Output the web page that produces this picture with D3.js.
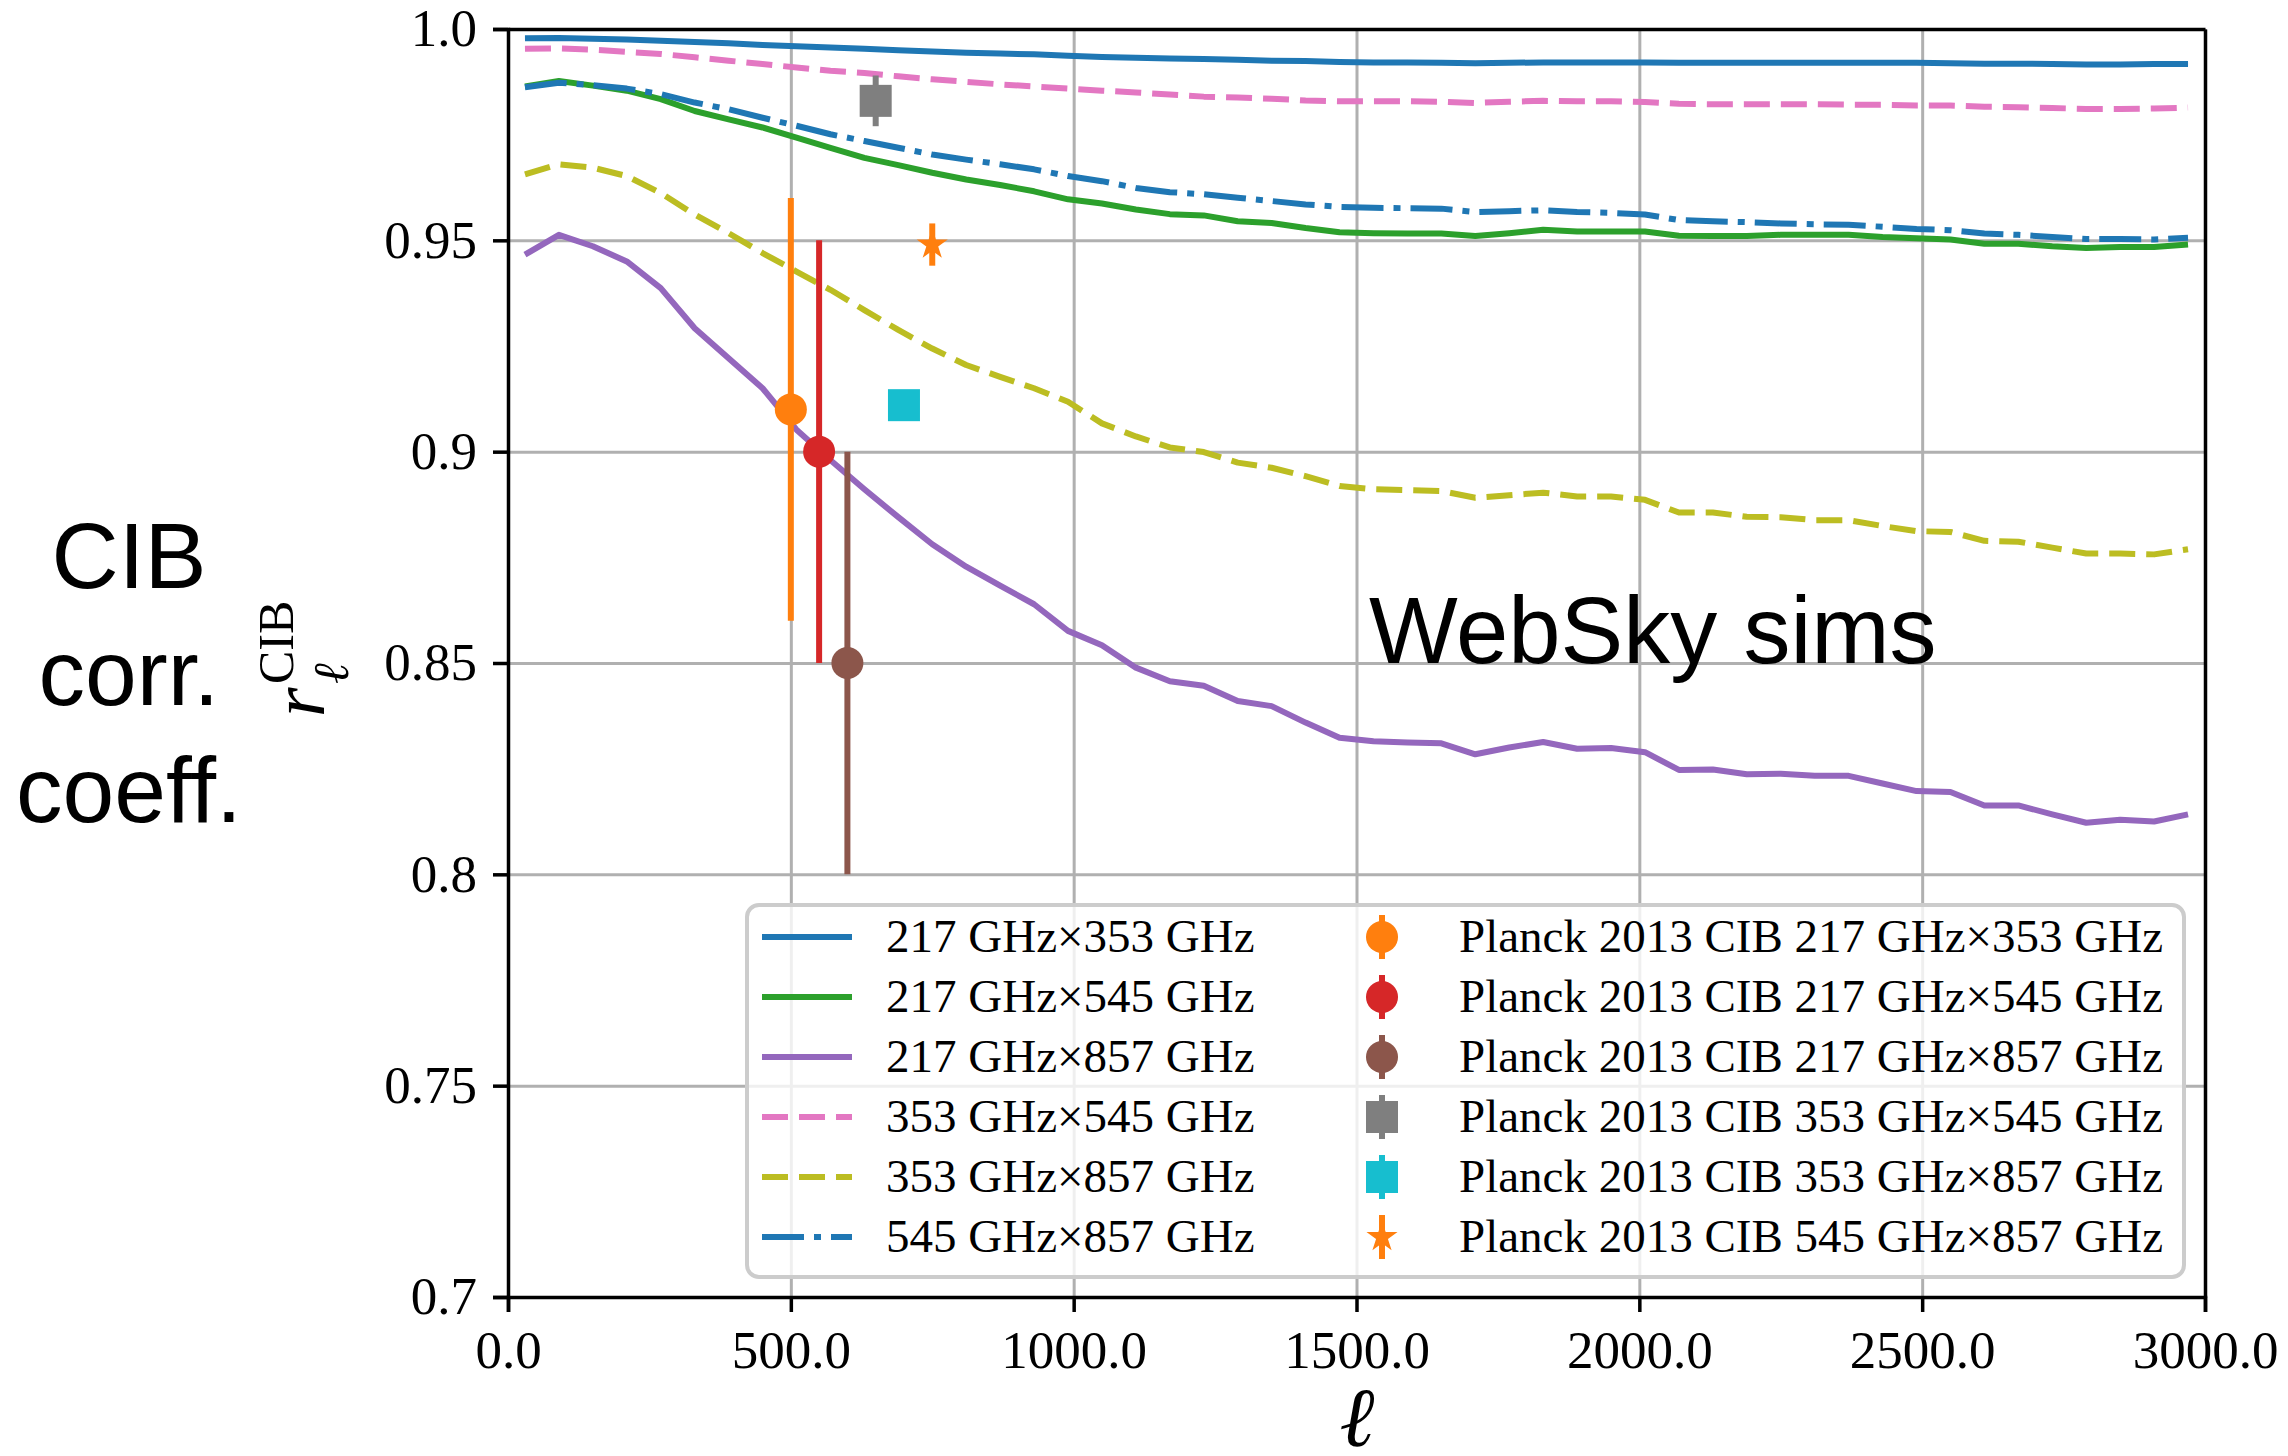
<!DOCTYPE html>
<html lang="en">
<head>
<meta charset="UTF-8">
<title>CIB corr. coeff. - WebSky sims</title>
<script src="https://cdn.jsdelivr.net/npm/d3@7"></script>
<style>
  body { margin: 0; background: #fff; }
  svg { display: block; }
  .tick text { font-family: "Liberation Serif", serif; }
</style>
</head>
<body>
<script>
// multipole bin centres
var ell = [30, 90, 150, 210, 270, 330, 390, 450, 510, 570,
           630, 690, 750, 810, 870, 930, 990, 1050, 1110, 1170,
           1230, 1290, 1350, 1410, 1470, 1530, 1590, 1650, 1710, 1770,
           1830, 1890, 1950, 2010, 2070, 2130, 2190, 2250, 2310, 2370,
           2430, 2490, 2550, 2610, 2670, 2730, 2790, 2850, 2910, 2970];

// WebSky CIB correlation coefficients r_ell
var r217x353 = [.9978, .9979, .9977, .9975, .9972, .9969, .9966, .9962, .9959, .9956,
                .9953, .9950, .9947, .9944, .9942, .9940, .9937, .9934, .9932, .9930,
                .9929, .9927, .9925, .9924, .9922, .9921, .9921, .9920, .9919, .9920,
                .9921, .9921, .9921, .9921, .9920, .9920, .9920, .9920, .9920, .9920,
                .9920, .9920, .9919, .9918, .9918, .9917, .9916, .9916, .9917, .9917];
var r217x545 = [.9864, .9877, .9866, .9854, .9834, .9806, .9786, .9767, .9743, .9719,
                .9695, .9678, .9660, .9644, .9631, .9616, .9597, .9587, .9573, .9562,
                .9559, .9545, .9541, .9529, .9519, .9517, .9516, .9516, .9510, .9517,
                .9525, .9521, .9521, .9521, .9511, .9510, .9510, .9513, .9513, .9513,
                .9508, .9505, .9502, .9492, .9492, .9486, .9482, .9484, .9484, .9490];
var r217x857 = [.9466, .9513, .9486, .9450, .9387, .9292, .9221, .9150, .9052, .8980,
                .8911, .8845, .8781, .8728, .8683, .8639, .8576, .8542, .8489, .8457,
                .8446, .8410, .8398, .8359, .8323, .8315, .8312, .8310, .8284, .8300,
                .8313, .8297, .8299, .8289, .8247, .8248, .8237, .8238, .8233, .8233,
                .8215, .8197, .8195, .8163, .8163, .8142, .8122, .8129, .8125, .8142];
var r353x545 = [.9953, .9954, .9951, .9946, .9941, .9933, .9925, .9917, .9909, .9901,
                .9896, .9888, .9881, .9875, .9869, .9864, .9859, .9854, .9850, .9845,
                .9840, .9838, .9835, .9831, .9829, .9829, .9829, .9828, .9825, .9828,
                .9830, .9829, .9829, .9827, .9823, .9822, .9822, .9822, .9822, .9821,
                .9821, .9819, .9819, .9816, .9815, .9813, .9811, .9811, .9812, .9814];
var r353x857 = [.9656, .9680, .9672, .9652, .9612, .9561, .9517, .9470, .9426, .9383,
                .9335, .9288, .9244, .9205, .9177, .9150, .9118, .9067, .9036, .9010,
                .8999, .8974, .8962, .8942, .8919, .8911, .8909, .8907, .8891, .8897,
                .8903, .8894, .8894, .8886, .8856, .8856, .8846, .8845, .8838, .8838,
                .8824, .8812, .8810, .8789, .8787, .8773, .8759, .8759, .8757, .8769];
var r545x857 = [.9862, .9873, .9867, .9859, .9846, .9826, .9810, .9790, .9771, .9751,
                .9735, .9719, .9703, .9691, .9680, .9668, .9652, .9640, .9624, .9614,
                .9609, .9601, .9593, .9585, .9579, .9577, .9576, .9575, .9567, .9569,
                .9571, .9567, .9565, .9561, .9548, .9545, .9543, .9540, .9538, .9537,
                .9532, .9527, .9524, .9516, .9513, .9508, .9503, .9503, .9502, .9506];

var seriesLabels = ["217 GHz\u00d7353 GHz", "217 GHz\u00d7545 GHz", "217 GHz\u00d7857 GHz",
                    "353 GHz\u00d7545 GHz", "353 GHz\u00d7857 GHz", "545 GHz\u00d7857 GHz"];

// Planck 2013 CIB points
var planckEll = [500, 550, 600, 650, 700, 750];
var planckR   = [0.910, 0.900, 0.850, 0.983, 0.911, 0.949];
var planckErr = [0.050, 0.050, 0.050, 0.006, 0.003, 0.005];
var planckLabels = seriesLabels.map(function(s){ return "Planck 2013 CIB " + s; });

var xTicks = [0, 500, 1000, 1500, 2000, 2500, 3000];
var xTickLabels = ["0.0", "500.0", "1000.0", "1500.0", "2000.0", "2500.0", "3000.0"];
var yTicks = [0.7, 0.75, 0.8, 0.85, 0.9, 0.95, 1.0];
var yTickLabels = ["0.7", "0.75", "0.8", "0.85", "0.9", "0.95", "1.0"];

// ---- styles ----
var lineStyles = [
  {color: "#1f77b4", dash: null},
  {color: "#2ca02c", dash: null},
  {color: "#9467bd", dash: null},
  {color: "#e377c2", dash: "26,11"},
  {color: "#bcbd22", dash: "26,11"},
  {color: "#1f77b4", dash: "42,10,7,10"}
];
var pointStyles = [
  {color: "#ff7f0e", shape: "circle"},
  {color: "#d62728", shape: "circle"},
  {color: "#8c564b", shape: "circle"},
  {color: "#7f7f7f", shape: "square"},
  {color: "#17becf", shape: "square"},
  {color: "#ff7f0e", shape: "star"}
];

var width = 2288, height = 1456;
var plotL = 508, plotR = 2205, plotT = 29, plotB = 1297;

var svg = d3.select("body").append("svg").attr("width", width).attr("height", height);

var x = d3.scaleLinear().domain([0, 3000]).range([plotL, plotR]);
var y = d3.scaleLinear().domain([0.7, 1.0]).range([plotB, plotT]);

svg.append("clipPath").attr("id", "plotclip")
  .append("rect").attr("x", plotL).attr("y", plotT).attr("width", plotR - plotL).attr("height", plotB - plotT);

// grid
var grid = svg.append("g").attr("class", "grid");
grid.append("g").attr("transform", "translate(0," + plotB + ")")
  .call(d3.axisBottom(x).tickValues(xTicks).tickSize(-(plotB - plotT)).tickFormat(""));
grid.append("g").attr("transform", "translate(" + plotL + ",0)")
  .call(d3.axisLeft(y).tickValues(yTicks).tickSize(-(plotR - plotL)).tickFormat(""));
grid.selectAll(".domain").remove();
grid.selectAll("line").attr("stroke", "#b0b0b0").attr("stroke-width", 3);

// lines
var allSeries = [r217x353, r217x545, r217x857, r353x545, r353x857, r545x857];
var line = d3.line().x(function(d, i){ return x(ell[i]); }).y(function(d){ return y(d); });
var plot = svg.append("g").attr("clip-path", "url(#plotclip)");
allSeries.forEach(function(s, k){
  plot.append("path").datum(s)
    .attr("d", line)
    .attr("fill", "none")
    .attr("stroke", lineStyles[k].color)
    .attr("stroke-width", 6)
    .attr("stroke-linejoin", "round")
    .attr("stroke-dasharray", lineStyles[k].dash);
});

function drawMarker(g, shape, color) {
  if (shape === "circle") {
    g.append("circle").attr("r", 16).attr("fill", color);
  } else if (shape === "square") {
    g.append("rect").attr("x", -16).attr("y", -16).attr("width", 32).attr("height", 32).attr("fill", color);
  } else {
    g.append("path").attr("d", d3.symbol(d3.symbolStar, 300)()).attr("fill", color);
  }
}

// Planck error bars
planckEll.forEach(function(l, k){
  var st = pointStyles[k];
  plot.append("line")
    .attr("x1", x(l)).attr("x2", x(l))
    .attr("y1", y(planckR[k] - planckErr[k])).attr("y2", y(planckR[k] + planckErr[k]))
    .attr("stroke", st.color).attr("stroke-width", 6);
  var g = plot.append("g").attr("transform", "translate(" + x(l) + "," + y(planckR[k]) + ")");
  drawMarker(g, st.shape, st.color);
});

// axes
var xAxis = svg.append("g").attr("transform", "translate(0," + plotB + ")")
  .call(d3.axisBottom(x).tickValues(xTicks).tickSize(15).tickPadding(18)
    .tickFormat(function(d, i){ return xTickLabels[i]; }));
var yAxis = svg.append("g").attr("transform", "translate(" + plotL + ",0)")
  .call(d3.axisLeft(y).tickValues(yTicks).tickSize(15).tickPadding(16)
    .tickFormat(function(d, i){ return yTickLabels[i]; }));
svg.append("g").attr("transform", "translate(0," + plotT + ")")
  .call(d3.axisTop(x).tickValues([]).tickSizeOuter(0));
svg.append("g").attr("transform", "translate(" + plotR + ",0)")
  .call(d3.axisRight(y).tickValues([]).tickSizeOuter(0));
svg.selectAll(".domain").attr("stroke", "#000").attr("stroke-width", 3.5);
xAxis.selectAll(".tick line").attr("stroke-width", 3.5);
yAxis.selectAll(".tick line").attr("stroke-width", 3.5);
xAxis.selectAll("text").attr("font-size", 53).attr("fill", "#000");
yAxis.selectAll("text").attr("font-size", 53).attr("fill", "#000");

// axis labels
svg.append("text").attr("x", 1357).attr("y", 1446)
  .attr("text-anchor", "middle")
  .style("font-family", "'Liberation Serif', serif").style("font-style", "italic")
  .attr("font-size", 84).text("\u2113");

var ylab = svg.append("g").attr("transform", "translate(324,717) rotate(-90)")
  .style("font-family", "'Liberation Serif', serif");
ylab.append("text").attr("x", 0).attr("y", 0).attr("font-size", 76).style("font-style", "italic").text("r");
ylab.append("text").attr("x", 33).attr("y", -31).attr("font-size", 50).text("CIB");
ylab.append("text").attr("x", 33).attr("y", 24).attr("font-size", 50).style("font-style", "italic").text("\u2113");

var side = svg.append("text").attr("text-anchor", "middle")
  .style("font-family", "'Liberation Sans', Arial, sans-serif").attr("font-size", 93);
["CIB", "corr.", "coeff."].forEach(function(t, i){
  side.append("tspan").attr("x", 129).attr("y", 588 + i * 117).text(t);
});

svg.append("text").attr("x", 1369).attr("y", 663)
  .style("font-family", "'Liberation Sans', Arial, sans-serif").attr("font-size", 94)
  .text("WebSky sims");

// legend
var legend = svg.append("g");
legend.append("rect").attr("x", 747).attr("y", 905).attr("width", 1437).attr("height", 372)
  .attr("rx", 12).attr("fill", "#fff").attr("fill-opacity", 0.8)
  .attr("stroke", "#cccccc").attr("stroke-width", 4);

var rowY = function(k){ return 937 + 60 * k; };
seriesLabels.forEach(function(lab, k){
  legend.append("line").attr("x1", 762).attr("x2", 852).attr("y1", rowY(k)).attr("y2", rowY(k))
    .attr("stroke", lineStyles[k].color).attr("stroke-width", 6)
    .attr("stroke-dasharray", lineStyles[k].dash);
  legend.append("text").attr("x", 886).attr("y", rowY(k) + 15)
    .style("font-family", "'Liberation Serif', serif").attr("font-size", 47).text(lab);
});
planckLabels.forEach(function(lab, k){
  var st = pointStyles[k];
  legend.append("line").attr("x1", 1382).attr("x2", 1382).attr("y1", rowY(k) - 22).attr("y2", rowY(k) + 22)
    .attr("stroke", st.color).attr("stroke-width", 6);
  var g = legend.append("g").attr("transform", "translate(1382," + rowY(k) + ")");
  drawMarker(g, st.shape, st.color);
  legend.append("text").attr("x", 1459).attr("y", rowY(k) + 15)
    .style("font-family", "'Liberation Serif', serif").attr("font-size", 47).text(lab);
});
</script>
</body>
</html>
